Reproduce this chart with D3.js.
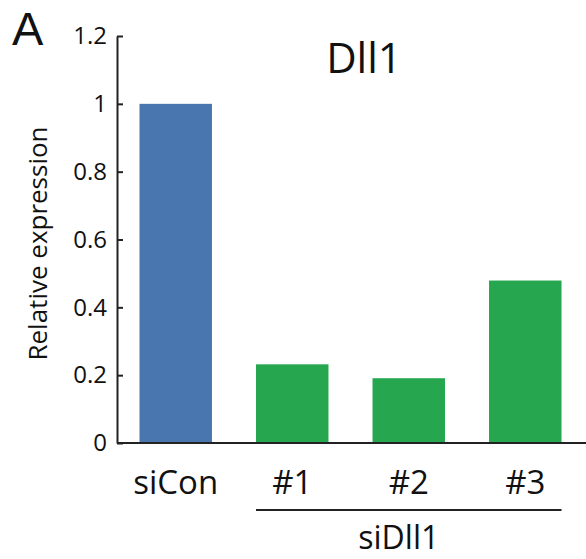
<!DOCTYPE html>
<html>
<head>
<meta charset="utf-8">
<script src="https://cdn.jsdelivr.net/npm/d3@7"></script>
<style>
  body { margin: 0; background: #fff; }
  text { font-family: "Open Sans", "Noto Sans", sans-serif; fill: #111; }
</style>
</head>
<body>
<div id="chart"></div>
<script>
// values
const categories = ["siCon", "#1", "#2", "#3"];
const values = [1.0, 0.232, 0.191, 0.479];
const barColors = ["#4a76b0", "#26a64f", "#26a64f", "#26a64f"];
const yTicks = [0, 0.2, 0.4, 0.6, 0.8, 1, 1.2];
const yTickLabels = ["0", "0.2", "0.4", "0.6", "0.8", "1", "1.2"];
const groupLabel = "siDll1";
const groupMembers = ["#1", "#2", "#3"];

const W = 586, H = 559;
const margin = {top: 36, right: 2, bottom: 116, left: 117};
const width = W - margin.left - margin.right,
      height = H - margin.top - margin.bottom;

const svg = d3.select("#chart").append("svg")
  .attr("width", W)
  .attr("height", H);

const g = svg.append("g")
  .attr("transform", `translate(${margin.left},${margin.top})`);

const x = d3.scaleBand()
  .domain(categories)
  .range([0, width])
  .paddingInner(0.378)
  .paddingOuter(0.193);

const y = d3.scaleLinear()
  .domain([0, 1.2])
  .range([height, 0]);

// bars
g.selectAll(".bar")
  .data(categories)
  .join("rect")
  .attr("class", "bar")
  .attr("x", d => x(d))
  .attr("width", x.bandwidth())
  .attr("y", (d, i) => y(values[i]))
  .attr("height", (d, i) => height - y(values[i]))
  .attr("fill", (d, i) => barColors[i]);

// y axis, ticks pointing inward
const yAxis = g.append("g")
  .call(d3.axisLeft(y)
    .tickValues(yTicks)
    .tickFormat((d, i) => yTickLabels[i])
    .tickSizeInner(-6)
    .tickSizeOuter(0)
    .tickPadding(10));
yAxis.selectAll("path, line").attr("stroke", "#222").attr("stroke-width", 2);
yAxis.selectAll("text")
  .style("font-size", "24px")
  .style("font-family", "'Open Sans', sans-serif")
  .attr("fill", "#111");

// baseline runs to the right edge
g.append("line")
  .attr("x1", 0).attr("x2", width + margin.right)
  .attr("y1", y(0)).attr("y2", y(0))
  .attr("stroke", "#222").attr("stroke-width", 2);

// category labels
g.selectAll(".cat")
  .data(categories)
  .join("text")
  .attr("class", "cat")
  .attr("x", d => x(d) + x.bandwidth() / 2)
  .attr("y", height + 51)
  .attr("text-anchor", "middle")
  .style("font-size", "33px")
  .text(d => d);

// group bracket
const gx0 = x(groupMembers[0]);
const gx1 = x(groupMembers[groupMembers.length - 1]) + x.bandwidth();
g.append("line")
  .attr("x1", gx0).attr("x2", gx1)
  .attr("y1", height + 67).attr("y2", height + 67)
  .attr("stroke", "#222").attr("stroke-width", 2);
g.append("text")
  .attr("x", (gx0 + gx1) / 2 - 10)
  .attr("y", height + 106)
  .attr("text-anchor", "middle")
  .style("font-size", "32px")
  .text(groupLabel);

// title
svg.append("text")
  .attr("x", 364)
  .attr("y", 73)
  .attr("text-anchor", "middle")
  .style("font-size", "42px")
  .text("Dll1");

// panel letter
svg.append("text")
  .attr("x", 12)
  .attr("y", 45)
  .style("font-family", "'Liberation Sans', sans-serif")
  .style("font-size", "47px")
  .text("A");

// y label
svg.append("text")
  .attr("transform", `translate(47, ${margin.top + height / 2 + 4}) rotate(-90)`)
  .attr("text-anchor", "middle")
  .style("font-size", "26px")
  .text("Relative expression");
</script>
</body>
</html>
